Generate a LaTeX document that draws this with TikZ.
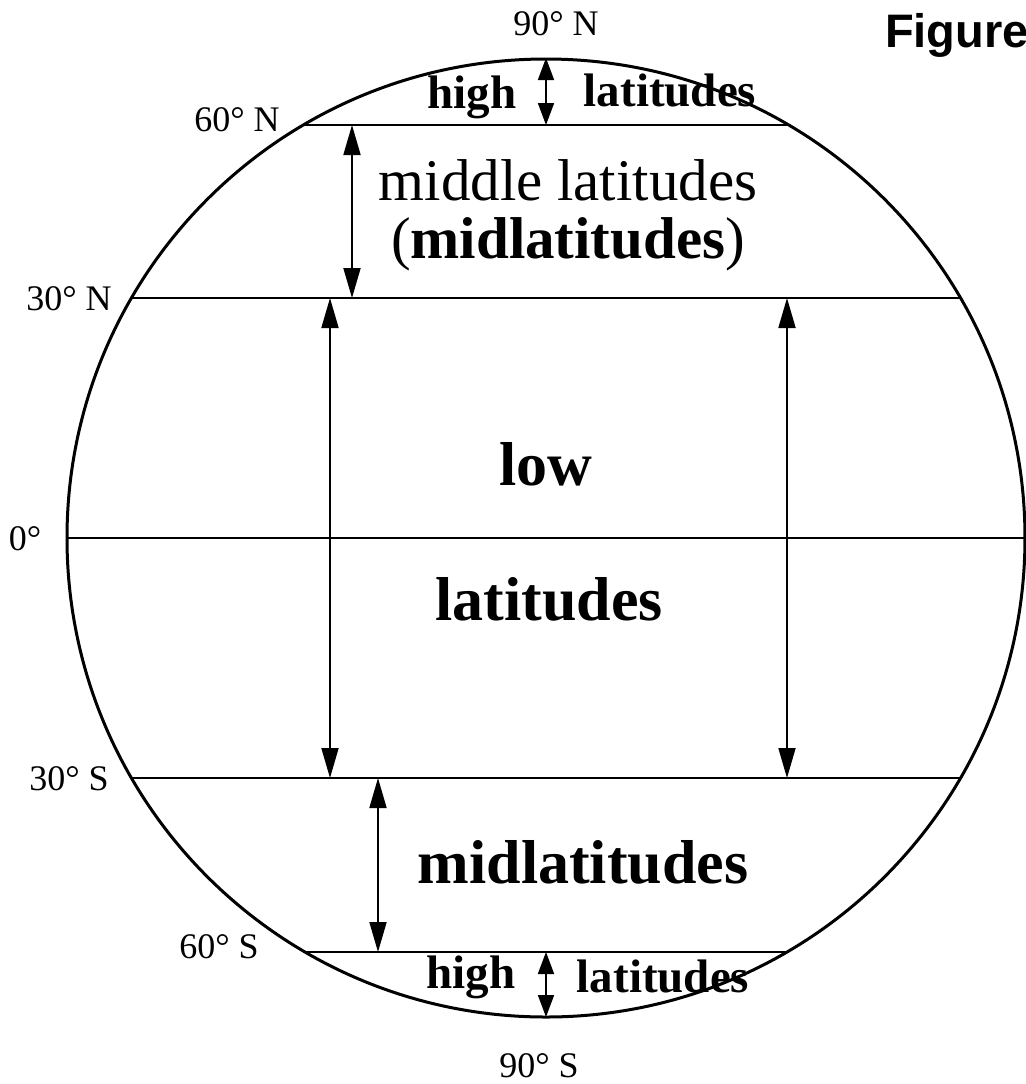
\documentclass[tikz,border=0pt]{standalone}
\usepackage{fontspec}
\setmainfont{Liberation Serif}
\newfontfamily\figfont{Liberation Sans}
\usetikzlibrary{arrows.meta}

\tikzset{
  degree/.style={font=\fontsize{18}{20}\selectfont, anchor=base},
  zone/.style={font=\bfseries\fontsize{23.5}{26}\selectfont, anchor=base},
  bigzone/.style={font=\bfseries\fontsize{31}{34}\selectfont, anchor=base},
  midzone/.style={font=\fontsize{29.5}{32}\selectfont, anchor=base},
  span/.style={{Triangle[length=15pt,width=8.5pt]}-{Triangle[length=15pt,width=8.5pt]}, line width=0.9pt},
  smallspan/.style={{Triangle[length=11pt,width=8pt]}-{Triangle[length=11pt,width=8pt]}, line width=0.9pt},
  parallel/.style={line width=1pt}
}

\begin{document}
\begin{tikzpicture}[x=0.5pt, y=-0.5pt]
  \useasboundingbox (0,0) rectangle (1026,1084);

  % degree labels
  \node[degree] (n90) at (556,35) {90° N};
  \node[degree] (n60) at (237,131) {60° N};
  \node[degree] (n30) at (69,310) {30° N};
  \node[degree] (eq) at (25,550) {0°};
  \node[degree] (s30) at (69,790) {30° S};
  \node[degree] (s60) at (219,958) {60° S};
  \node[degree] (s90) at (539,1077) {90° S};
  \node[font=\figfont\bfseries\fontsize{23.5}{26}\selectfont, anchor=base west] (fig) at (878,47) {Figure};

  % zone labels
  \node[zone] (highn) at (472,108) {high};
  \node[zone] (latn) at (670,106) {latitudes};
  \node[midzone] (middle) at (568,200) {middle latitudes};
  \node[midzone] (midn) at (568,258) {(\textbf{midlatitudes})};
  \node[bigzone] (low) at (546,485) {low};
  \node[bigzone] (lowlat) at (549,620) {latitudes};
  \node[bigzone] (mids) at (583,883) {midlatitudes};
  \node[zone] (highs) at (471,988) {high};
  \node[zone] (lats) at (663,992) {latitudes};

  % globe and parallels
  \draw[parallel] (303,125) -- (789,125);
  \draw[parallel] (132,298) -- (960,298);
  \draw[parallel] (67,538) -- (1025,538);
  \draw[parallel] (132,778) -- (960,778);
  \draw[parallel] (303,952) -- (789,952);
  \draw[line width=1.5pt] (546,538) circle (239.5pt);

  % arrow ends
  \coordinate (hn1) at (546,58);  \coordinate (hn2) at (546,125);
  \coordinate (mn1) at (352,125); \coordinate (mn2) at (352,298);
  \coordinate (lw1) at (330,298); \coordinate (lw2) at (330,778);
  \coordinate (le1) at (787,298); \coordinate (le2) at (787,778);
  \coordinate (ms1) at (378,778); \coordinate (ms2) at (378,952);
  \coordinate (hs1) at (546,952); \coordinate (hs2) at (546,1017);

  \path[span]
    (mn1) edge (mn2)
    (lw1) edge (lw2)
    (le1) edge (le2)
    (ms1) edge (ms2);
  \path[smallspan]
    (hn1) edge (hn2)
    (hs1) edge (hs2);
\end{tikzpicture}
\end{document}
